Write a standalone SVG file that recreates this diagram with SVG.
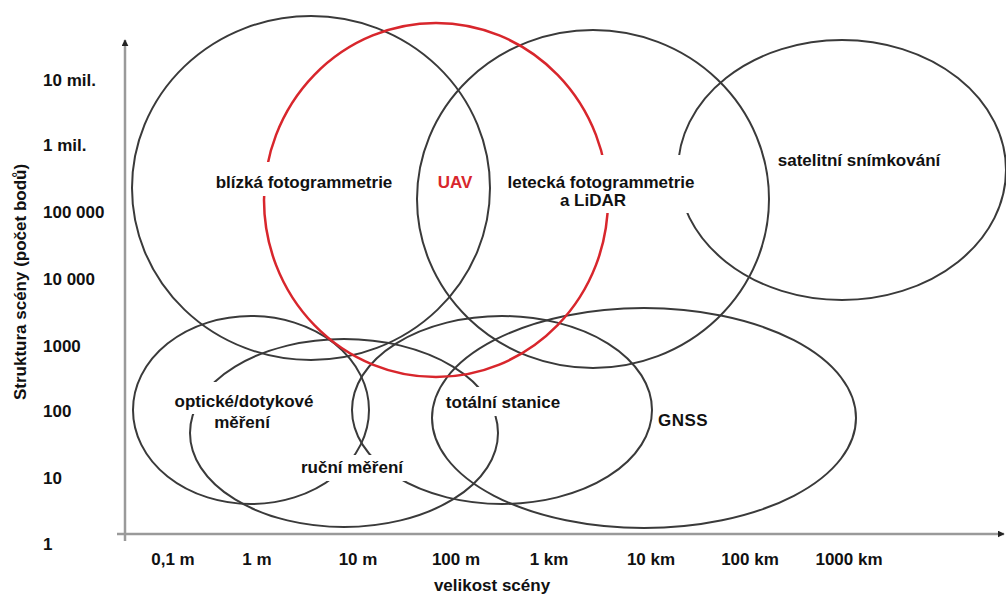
<svg xmlns="http://www.w3.org/2000/svg" width="1006" height="594" viewBox="0 0 1006 594">
<defs>
<style>
.e{fill:none;stroke:#3a3a3a;stroke-width:2}
.r{fill:none;stroke:#d8262c;stroke-width:2.5}
.ax{stroke:#9a9a9a;stroke-width:2.5;fill:none}
.t{font-family:"Liberation Sans",Arial,sans-serif;font-weight:bold;font-size:17px;fill:#111}
.m{text-anchor:middle}
.bg{fill:#fff}
</style>
<marker id="arr" viewBox="0 0 10 10" refX="9" refY="5" markerWidth="7" markerHeight="7" markerUnits="userSpaceOnUse" orient="auto">
<path d="M0,0 L10,5 L0,10 z" fill="#222"/>
</marker>
</defs>
<rect width="1006" height="594" fill="#fff"/>
<g id="connectors">
<line class="ax" x1="125" y1="541" x2="125" y2="40" marker-end="url(#arr)"/>
<line class="ax" x1="117" y1="534" x2="1004" y2="534" marker-end="url(#arr)"/>
</g>
<g id="ellipses">
<ellipse id="e-blizka" class="e" cx="311" cy="188" rx="179" ry="172"/>
<ellipse id="e-letecka" class="e" cx="593" cy="199" rx="176" ry="169"/>
<ellipse id="e-satelit" class="e" cx="842" cy="170" rx="164" ry="130"/>
<ellipse id="e-opticke" class="e" cx="251" cy="410" rx="118" ry="94"/>
<ellipse id="e-rucni" class="e" cx="344" cy="433" rx="154" ry="94"/>
<ellipse id="e-totalni" class="e" cx="502" cy="410" rx="150" ry="94"/>
<ellipse id="e-gnss" class="e" cx="644" cy="418" rx="212" ry="110"/>
<ellipse id="e-uav" class="r" cx="436" cy="200" rx="172" ry="177"/>
</g>
<g id="node-blizka">
<rect class="bg" x="210" y="162" width="188" height="34"/>
<text class="t m" x="304" y="188">blízká fotogrammetrie</text>
</g>
<g id="node-uav">
<text class="t m" x="455" y="188" fill="#d8262c" style="fill:#d8262c">UAV</text>
</g>
<g id="node-letecka">
<rect class="bg" x="500" y="155" width="200" height="58"/>
<text class="t m" x="601" y="188">letecká fotogrammetrie</text>
<text class="t m" x="593" y="206">a LiDAR</text>
</g>
<g id="node-satelit">
<text class="t m" x="859" y="166">satelitní snímkování</text>
</g>
<g id="node-opticke">
<rect class="bg" x="170" y="382" width="148" height="32"/>
<rect class="bg" x="211" y="414" width="63" height="20"/>
<text class="t m" x="244" y="407">optické/dotykové</text>
<text class="t m" x="242" y="428">měření</text>
</g>
<g id="node-rucni">
<rect class="bg" x="298" y="455" width="108" height="26"/>
<text class="t m" x="352" y="473">ruční měření</text>
</g>
<g id="node-totalni">
<rect class="bg" x="443" y="387" width="120" height="29"/>
<text class="t m" x="503" y="408">totální stanice</text>
</g>
<g id="node-gnss">
<text class="t m" x="683" y="426" letter-spacing="0.5">GNSS</text>
</g>
<g id="y-ticks" class="t">
<text x="43" y="86">10 mil.</text>
<text x="43" y="151">1 mil.</text>
<text x="43" y="218">100 000</text>
<text x="43" y="285">10 000</text>
<text x="43" y="352">1000</text>
<text x="43" y="417">100</text>
<text x="43" y="484">10</text>
<text x="43" y="550">1</text>
</g>
<g id="x-ticks" class="t m">
<text x="173" y="565">0,1 m</text>
<text x="257" y="565">1 m</text>
<text x="358" y="565">10 m</text>
<text x="456" y="565">100 m</text>
<text x="549" y="565">1 km</text>
<text x="651" y="565">10 km</text>
<text x="750" y="565">100 km</text>
<text x="849" y="565">1000 km</text>
</g>
<g id="axis-titles" class="t m">
<text x="492" y="591">velikost scény</text>
<text transform="translate(26,282) rotate(-90)">Struktura scény (počet bodů)</text>
</g>
</svg>
